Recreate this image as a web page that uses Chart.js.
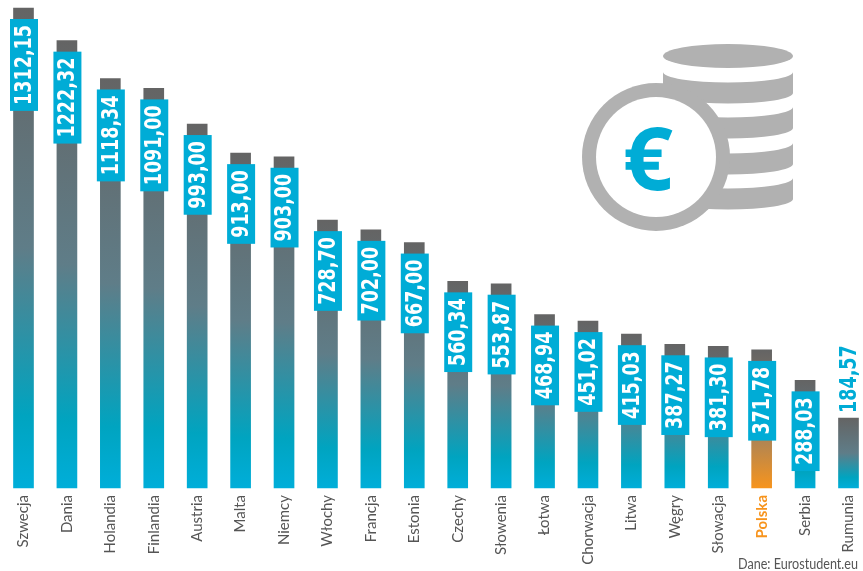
<!DOCTYPE html>
<html>
<head>
<meta charset="utf-8">
<style>
  html, body { margin: 0; padding: 0; background: #fff; overflow: hidden; }
  canvas { display: block; }
</style>
</head>
<body>
<canvas id="chart" width="863" height="571"></canvas>
<script src="https://cdn.jsdelivr.net/npm/chart.js@4"></script>
<script>
const countries = ['Szwecja', 'Dania', 'Holandia', 'Finlandia', 'Austria', 'Malta', 'Niemcy', 'Włochy', 'Francja', 'Estonia',
    'Czechy', 'Słowenia', 'Łotwa', 'Chorwacja', 'Litwa', 'Węgry', 'Słowacja', 'Polska', 'Serbia', 'Rumunia'];
const amounts = [1312.15, 1222.32, 1118.34, 1091.00, 993.00, 913.00, 903.00, 728.70, 702.00, 667.00,
    560.34, 553.87, 468.94, 451.02, 415.03, 387.27, 381.30, 371.78, 288.03, 184.57];
const highlighted = 'Polska';
const unboxed = 'Rumunia';
const source = 'Dane: Eurostudent.eu';

const BLUE = '#00acd6';
const ORANGE = '#f7941d';
const VALUE_FONT = 'bold 19.5px "DejaVu Sans Condensed", "DejaVu Sans", sans-serif';
const LABEL_FAMILY = 'Lato, sans-serif';

function formatAmount(v) {
    return v.toFixed(2).replace('.', ',');
}

// Vertical gradient over the height of one bar
function barGradient(context) {
    const chart = context.chart;
    const y = chart.scales.y;
    if (!chart.chartArea || !y) return BLUE;
    const g = chart.ctx.createLinearGradient(0, y.getPixelForValue(amounts[context.dataIndex]), 0, chart.chartArea.bottom);
    g.addColorStop(0, '#646464');
    if (countries[context.dataIndex] === highlighted) {
        g.addColorStop(0.55, '#9a8064');
        g.addColorStop(1, ORANGE);
    } else {
        g.addColorStop(0.5, '#5f7d88');
        g.addColorStop(0.85, '#00a4c0');
        g.addColorStop(1, '#00aed9');
    }
    return g;
}

// Blue boxes with the rotated value
const valueBoxes = {
    id: 'valueBoxes',
    afterDatasetsDraw(chart) {
        const ctx = chart.ctx;
        chart.getDatasetMeta(0).data.forEach((bar, i) => {
            const text = formatAmount(amounts[i]);
            ctx.save();
            ctx.font = VALUE_FONT;
            const textWidth = ctx.measureText(text).width;
            const cx = bar.x + 0.5;
            let textStart;
            if (countries[i] === unboxed) {
                textStart = bar.y - 5;
                ctx.fillStyle = BLUE;
            } else {
                const boxTop = bar.y + 11;
                const boxHeight = textWidth + 12;
                ctx.fillStyle = BLUE;
                ctx.fillRect(cx - 14, boxTop, 28, boxHeight);
                textStart = boxTop + boxHeight - 6;
                ctx.fillStyle = '#fff';
            }
            ctx.translate(cx, textStart);
            ctx.rotate(-Math.PI / 2);
            // the original digits are taller than the condensed face
            ctx.scale(1, 1.14);
            ctx.textAlign = 'left';
            ctx.textBaseline = 'middle';
            ctx.fillText(text, 0, 1);
            ctx.restore();
        });
    }
};

// Coin stack in the upper right corner and the source line
const decoration = {
    id: 'decoration',
    afterDraw(chart) {
        const ctx = chart.ctx;
        ctx.save();
        ctx.fillStyle = '#b1b1b1';
        ctx.beginPath();
        ctx.ellipse(728, 56, 65, 12, 0, 0, Math.PI * 2);
        ctx.fill();
        [72, 107, 143, 178].forEach(top => {
            ctx.beginPath();
            ctx.ellipse(728, top, 65, 10.5, 0, 0, Math.PI);
            ctx.lineTo(663, top + 21);
            ctx.ellipse(728, top + 21, 65, 10.5, 0, Math.PI, 0, true);
            ctx.closePath();
            ctx.fill();
        });
        ctx.beginPath();
        ctx.arc(656, 157, 74, 0, Math.PI * 2);
        ctx.fill();
        ctx.fillStyle = '#fff';
        ctx.beginPath();
        ctx.arc(656, 157, 60, 0, Math.PI * 2);
        ctx.fill();

        ctx.fillStyle = BLUE;
        ctx.font = 'bold 88px "Open Sans", sans-serif';
        ctx.textAlign = 'center';
        ctx.textBaseline = 'alphabetic';
        ctx.fillText('€', 648, 190);

        ctx.fillStyle = '#555';
        ctx.font = '14.5px ' + LABEL_FAMILY;
        ctx.textAlign = 'right';
        ctx.fillText(source, 858, 569, 120);
        ctx.restore();
    }
};

new Chart(document.getElementById('chart'), {
    type: 'bar',
    data: {
        labels: countries,
        datasets: [{
            data: amounts,
            base: -8,
            barThickness: 20,
            clip: false,
            backgroundColor: barGradient
        }]
    },
    options: {
        responsive: false,
        animation: false,
        layout: { padding: { top: 8, left: 23.5, right: 14.5, bottom: 0 } },
        plugins: { legend: { display: false }, tooltip: { enabled: false } },
        scales: {
            x: {
                offset: false,
                grid: { display: false },
                border: { display: false },
                afterFit(scale) {
                    scale.height = 83;
                    scale.paddingLeft = 0;
                    scale.paddingRight = 0;
                },
                ticks: {
                    autoSkip: false,
                    minRotation: 90,
                    maxRotation: 90,
                    padding: -1,
                    color: ctx => countries[ctx.index] === highlighted ? ORANGE : '#555',
                    font: ctx => ({
                        family: LABEL_FAMILY,
                        size: 15,
                        weight: countries[ctx.index] === highlighted ? 'bold' : 'normal'
                    })
                }
            },
            y: {
                display: false,
                min: -8,
                max: 1312.15
            }
        }
    },
    plugins: [valueBoxes, decoration]
});
</script>
</body>
</html>
